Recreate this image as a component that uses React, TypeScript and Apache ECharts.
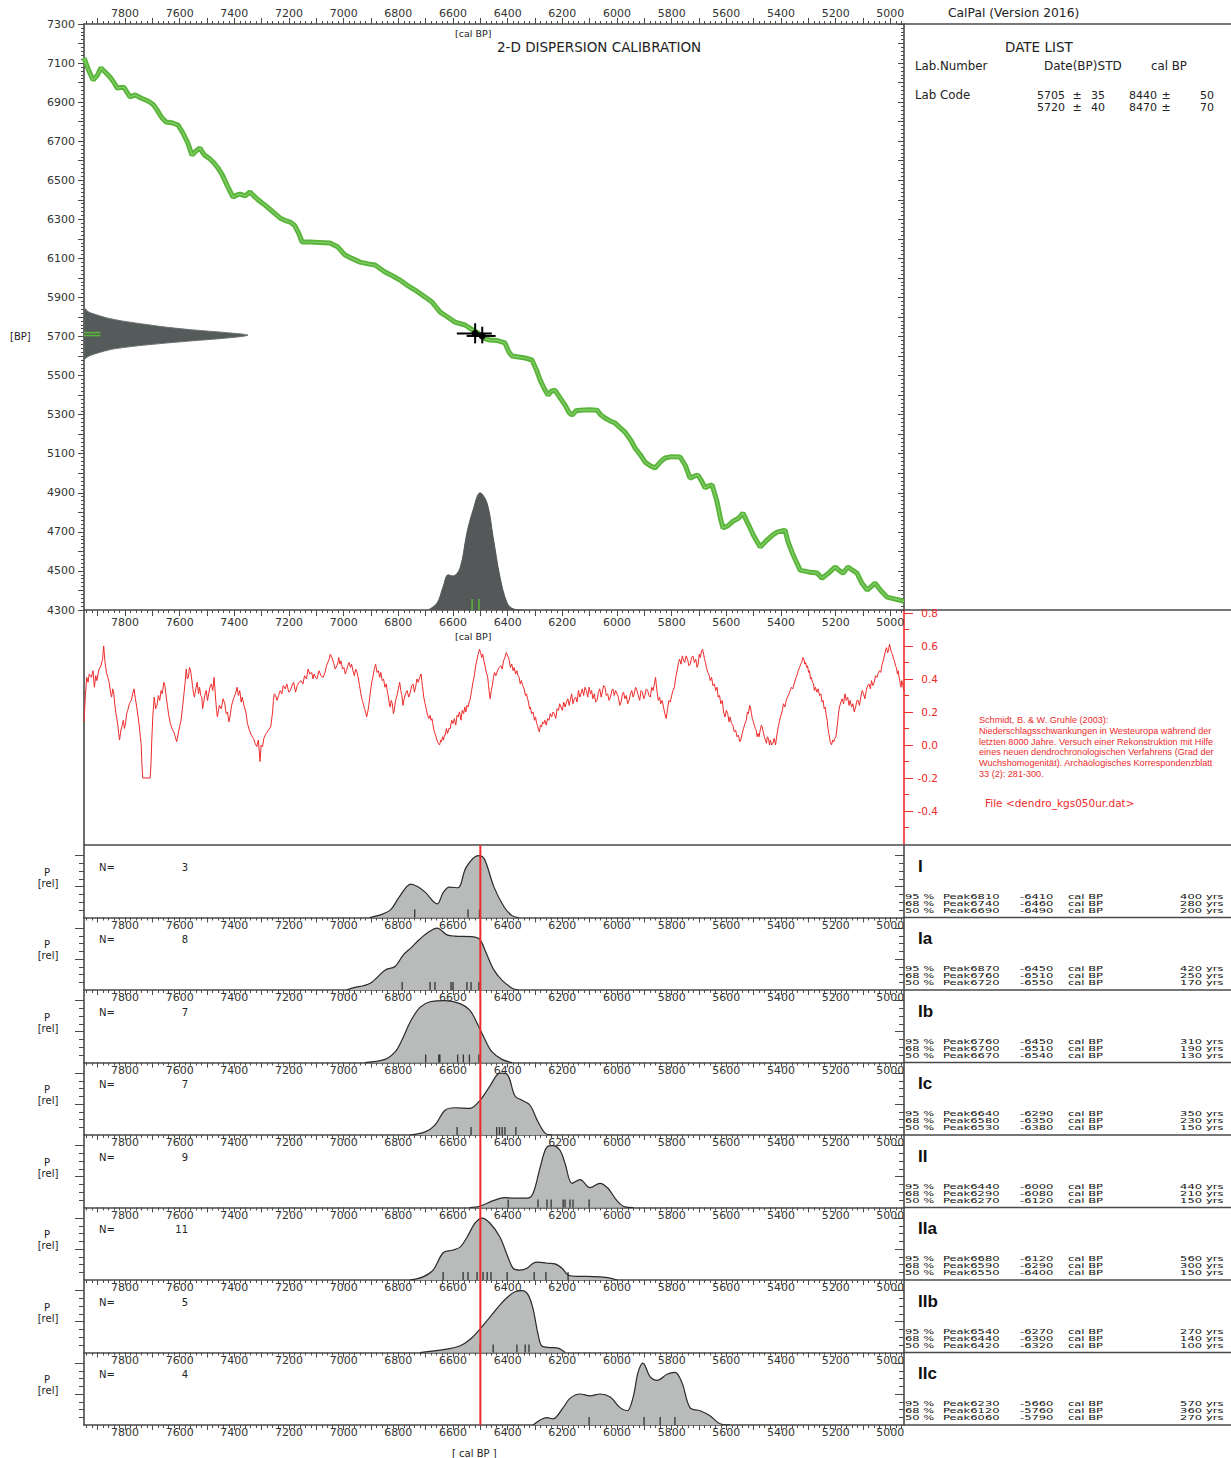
import React, { useEffect, useRef } from "react";
import * as echarts from "echarts";

// ---------------- data ----------------
const calTickLabels = [5000, 5200, 5400, 5600, 5800, 6000, 6200, 6400, 6600, 6800, 7000, 7200, 7400, 7600, 7800];
const bpTickLabels = [4300, 4500, 4700, 4900, 5100, 5300, 5500, 5700, 5900, 6100, 6300, 6500, 6700, 6900, 7100, 7300];
const dendroTickLabels = [-0.4, -0.2, 0, 0.2, 0.4, 0.6, 0.8];

// calibration curve [calBP, BP]
const calCurve = [
  [7950, 7126], [7935, 7070], [7917, 7013], [7900, 7040], [7888, 7075], [7870, 7050], [7855, 7029], [7840, 7000],
  [7829, 6972], [7815, 6975], [7804, 6976], [7790, 6945], [7782, 6926], [7763, 6937], [7740, 6920], [7720, 6908],
  [7709, 6900], [7695, 6885], [7683, 6860], [7665, 6820], [7650, 6798], [7630, 6795], [7606, 6783], [7588, 6742],
  [7570, 6690], [7555, 6629], [7540, 6650], [7526, 6665], [7510, 6630], [7490, 6610], [7475, 6590], [7460, 6563],
  [7445, 6530], [7425, 6470], [7405, 6414], [7390, 6425], [7379, 6429], [7360, 6420], [7343, 6440], [7325, 6415],
  [7313, 6400], [7300, 6385], [7288, 6373], [7260, 6340], [7233, 6307], [7210, 6292], [7196, 6286], [7180, 6270],
  [7165, 6230], [7152, 6184], [7123, 6184], [7090, 6182], [7050, 6179], [7021, 6158], [6995, 6117], [6970, 6100],
  [6940, 6081], [6910, 6072], [6885, 6066], [6849, 6030], [6820, 6010], [6794, 5989], [6770, 5965], [6739, 5938],
  [6702, 5902], [6677, 5877], [6647, 5825], [6620, 5800], [6593, 5774], [6556, 5759], [6530, 5735], [6508, 5718],
  [6485, 5690], [6465, 5682], [6440, 5680], [6410, 5667], [6395, 5620], [6384, 5600], [6360, 5595], [6336, 5590],
  [6311, 5580], [6295, 5530], [6281, 5477], [6265, 5430], [6252, 5400], [6240, 5420], [6227, 5426], [6210, 5390],
  [6190, 5349], [6175, 5310], [6164, 5298], [6150, 5320], [6135, 5323], [6100, 5325], [6073, 5323], [6060, 5300],
  [6044, 5283], [6025, 5268], [6007, 5257], [5990, 5235], [5971, 5211], [5950, 5170], [5934, 5129], [5915, 5095],
  [5897, 5057], [5880, 5040], [5861, 5027], [5840, 5060], [5824, 5078], [5800, 5085], [5769, 5083], [5750, 5040],
  [5733, 4975], [5718, 4985], [5704, 4991], [5690, 4960], [5678, 4925], [5665, 4935], [5652, 4940], [5635, 4860],
  [5620, 4760], [5612, 4720], [5595, 4730], [5575, 4755], [5555, 4770], [5539, 4796], [5520, 4740], [5500, 4680],
  [5476, 4622], [5460, 4645], [5451, 4658], [5430, 4685], [5414, 4699], [5385, 4709], [5374, 4648], [5355, 4580],
  [5330, 4504], [5300, 4495], [5268, 4489], [5250, 4463], [5225, 4490], [5202, 4520], [5185, 4500], [5173, 4489],
  [5155, 4520], [5140, 4505], [5122, 4489], [5105, 4440], [5085, 4402], [5070, 4420], [5056, 4438], [5035, 4400],
  [5012, 4366], [4950, 4345],
];

// BP probability (rotated, left) [BP, relP]
const bpDensity = [
  [5850, 0], [5840, 0.01], [5825, 0.03], [5810, 0.08], [5795, 0.14], [5780, 0.23], [5765, 0.35], [5750, 0.48],
  [5735, 0.65], [5722, 0.84], [5712, 0.97], [5707, 1.0], [5700, 0.96], [5690, 0.84], [5678, 0.66], [5665, 0.48],
  [5650, 0.3], [5635, 0.17], [5615, 0.08], [5600, 0.03], [5585, 0.005], [5580, 0],
];
const bpDateMarks = [[0.1, 5720], [0.1, 5705]];

// cal probability (bottom) [calBP, relP]
const calDensity = [
  [6691, 0], [6658, 0.06], [6636, 0.2], [6618, 0.3], [6600, 0.29], [6574, 0.36], [6549, 0.66], [6527, 0.85],
  [6501, 1.0], [6475, 0.91], [6453, 0.62], [6428, 0.28], [6402, 0.06], [6380, 0.01], [6344, 0],
];
const calDateMarks = [[6530, 0], [6505, 0]];

// crosses [cal, BP, calLo, calHi, bpHi, bpLo]
const crosses = [
  [6519, 5716, 6586, 6458, 5768, 5665],
  [6493, 5703, 6550, 6444, 5750, 5665],
];

// dendro curve [calBP, value]
const dendro = [
  [7950, 0.14], [7945, 0.3], [7940, 0.41], [7935, 0.38], [7931, 0.43], [7923, 0.41], [7917, 0.45], [7912, 0.35],
  [7907, 0.42], [7903, 0.39], [7895, 0.46], [7888, 0.48], [7882, 0.52], [7878, 0.6], [7873, 0.5], [7868, 0.44],
  [7863, 0.41], [7858, 0.38], [7853, 0.32], [7849, 0.29], [7845, 0.34], [7841, 0.31], [7837, 0.24], [7833, 0.19],
  [7826, 0.12], [7823, 0.07], [7820, 0.03], [7815, 0.09], [7810, 0.12], [7806, 0.15], [7802, 0.1], [7798, 0.13],
  [7794, 0.19], [7790, 0.21], [7784, 0.25], [7777, 0.27], [7772, 0.31], [7767, 0.34], [7762, 0.28], [7757, 0.23],
  [7752, 0.17], [7748, 0.12], [7744, 0.05], [7741, 0.01], [7738, -0.12], [7735, -0.2], [7708, -0.2], [7705, -0.12],
  [7702, 0.03], [7698, 0.18], [7693, 0.29], [7688, 0.22], [7683, 0.24], [7678, 0.3], [7673, 0.27], [7668, 0.33],
  [7664, 0.31], [7658, 0.38], [7654, 0.36], [7649, 0.29], [7645, 0.24], [7640, 0.18], [7634, 0.13], [7628, 0.1],
  [7622, 0.08], [7616, 0.05], [7611, 0.02], [7606, 0.06], [7603, 0.09], [7599, 0.12], [7595, 0.15], [7590, 0.22],
  [7585, 0.3], [7580, 0.38], [7576, 0.46], [7572, 0.4], [7568, 0.41], [7564, 0.47], [7560, 0.45], [7556, 0.4],
  [7553, 0.36], [7549, 0.31], [7546, 0.29], [7541, 0.34], [7536, 0.38], [7531, 0.31], [7527, 0.35], [7523, 0.3],
  [7519, 0.29], [7516, 0.22], [7513, 0.25], [7508, 0.3], [7503, 0.33], [7498, 0.27], [7494, 0.31], [7489, 0.35],
  [7484, 0.37], [7479, 0.33], [7474, 0.41], [7471, 0.34], [7468, 0.27], [7465, 0.21], [7462, 0.17], [7455, 0.24],
  [7448, 0.22], [7441, 0.28], [7435, 0.25], [7430, 0.19], [7425, 0.2], [7420, 0.14], [7416, 0.17], [7410, 0.24],
  [7403, 0.28], [7396, 0.31], [7390, 0.35], [7385, 0.3], [7380, 0.33], [7375, 0.26], [7371, 0.29], [7365, 0.24],
  [7358, 0.2], [7352, 0.13], [7345, 0.09], [7338, 0.06], [7330, 0.04], [7324, 0.01], [7318, -0.01], [7312, 0.03],
  [7306, -0.1], [7302, 0.0], [7297, -0.01], [7292, 0.04], [7287, 0.06], [7283, 0.07], [7275, 0.09], [7267, 0.11],
  [7263, 0.16], [7260, 0.2], [7257, 0.27], [7254, 0.31], [7249, 0.3], [7244, 0.27], [7238, 0.3], [7232, 0.33],
  [7226, 0.31], [7221, 0.36], [7214, 0.34], [7208, 0.37], [7201, 0.32], [7195, 0.33], [7189, 0.36], [7183, 0.38],
  [7176, 0.32], [7170, 0.36], [7163, 0.38], [7156, 0.39], [7149, 0.37], [7143, 0.42], [7136, 0.4], [7130, 0.46],
  [7124, 0.43], [7117, 0.44], [7112, 0.4], [7108, 0.43], [7103, 0.41], [7098, 0.4], [7090, 0.45], [7083, 0.42],
  [7075, 0.41], [7068, 0.44], [7063, 0.48], [7058, 0.5], [7053, 0.52], [7049, 0.55], [7043, 0.53], [7037, 0.5],
  [7031, 0.46], [7025, 0.48], [7021, 0.5], [7018, 0.53], [7014, 0.49], [7010, 0.51], [7004, 0.46], [6999, 0.47],
  [6994, 0.43], [6990, 0.45], [6985, 0.48], [6980, 0.5], [6975, 0.47], [6971, 0.49], [6966, 0.45], [6961, 0.42],
  [6956, 0.46], [6951, 0.44], [6946, 0.4], [6942, 0.36], [6937, 0.31], [6932, 0.27], [6928, 0.25], [6924, 0.22],
  [6920, 0.2], [6916, 0.17], [6912, 0.2], [6908, 0.24], [6904, 0.3], [6900, 0.35], [6896, 0.39], [6892, 0.42],
  [6888, 0.46], [6883, 0.49], [6878, 0.44], [6873, 0.45], [6868, 0.41], [6864, 0.44], [6859, 0.39], [6854, 0.4],
  [6849, 0.35], [6844, 0.37], [6840, 0.32], [6837, 0.3], [6833, 0.25], [6830, 0.23], [6826, 0.27], [6822, 0.25],
  [6818, 0.19], [6815, 0.21], [6810, 0.27], [6805, 0.3], [6800, 0.34], [6795, 0.38], [6791, 0.33], [6787, 0.3],
  [6783, 0.24], [6780, 0.27], [6774, 0.31], [6768, 0.33], [6762, 0.29], [6756, 0.32], [6751, 0.36], [6746, 0.37],
  [6741, 0.32], [6737, 0.35], [6732, 0.4], [6727, 0.38], [6722, 0.41], [6717, 0.43], [6714, 0.39], [6712, 0.36],
  [6709, 0.32], [6707, 0.29], [6702, 0.25], [6698, 0.22], [6693, 0.18], [6688, 0.16], [6684, 0.18], [6680, 0.15],
  [6677, 0.16], [6674, 0.13], [6670, 0.09], [6666, 0.07], [6662, 0.05], [6659, 0.03], [6654, 0.01], [6649, 0.0],
  [6645, 0.03], [6642, 0.02], [6638, 0.05], [6635, 0.03], [6631, 0.06], [6628, 0.06], [6624, 0.1], [6620, 0.07],
  [6615, 0.1], [6610, 0.1], [6605, 0.15], [6600, 0.13], [6595, 0.16], [6590, 0.12], [6585, 0.18], [6581, 0.17],
  [6576, 0.2], [6571, 0.15], [6566, 0.21], [6561, 0.19], [6557, 0.23], [6553, 0.2], [6549, 0.24], [6545, 0.23],
  [6541, 0.26], [6538, 0.27], [6535, 0.3], [6532, 0.33], [6527, 0.38], [6522, 0.42], [6517, 0.48], [6512, 0.52],
  [6508, 0.55], [6503, 0.58], [6499, 0.56], [6495, 0.53], [6491, 0.55], [6487, 0.51], [6483, 0.48], [6480, 0.45],
  [6476, 0.43], [6473, 0.41], [6470, 0.36], [6468, 0.33], [6466, 0.3], [6464, 0.28], [6460, 0.33], [6456, 0.36],
  [6452, 0.41], [6448, 0.44], [6443, 0.42], [6437, 0.45], [6431, 0.47], [6425, 0.48], [6420, 0.46], [6415, 0.51],
  [6410, 0.53], [6405, 0.56], [6400, 0.54], [6395, 0.52], [6390, 0.47], [6385, 0.49], [6380, 0.45], [6376, 0.47],
  [6371, 0.43], [6366, 0.45], [6362, 0.42], [6358, 0.41], [6354, 0.37], [6350, 0.39], [6345, 0.36], [6340, 0.34],
  [6335, 0.3], [6331, 0.31], [6327, 0.28], [6324, 0.26], [6320, 0.22], [6317, 0.23], [6312, 0.19], [6307, 0.2],
  [6302, 0.15], [6298, 0.17], [6294, 0.13], [6291, 0.12], [6287, 0.09], [6284, 0.08], [6280, 0.12], [6276, 0.11],
  [6272, 0.14], [6268, 0.13], [6264, 0.15], [6259, 0.12], [6254, 0.16], [6249, 0.15], [6244, 0.19], [6239, 0.17],
  [6234, 0.2], [6229, 0.19], [6224, 0.16], [6219, 0.22], [6214, 0.21], [6210, 0.25], [6205, 0.23], [6200, 0.21],
  [6195, 0.26], [6190, 0.23], [6185, 0.26], [6180, 0.28], [6175, 0.24], [6171, 0.27], [6166, 0.31], [6161, 0.25],
  [6156, 0.28], [6151, 0.29], [6146, 0.26], [6141, 0.33], [6136, 0.29], [6132, 0.31], [6127, 0.34], [6122, 0.3],
  [6117, 0.35], [6112, 0.33], [6107, 0.29], [6102, 0.35], [6097, 0.31], [6093, 0.33], [6088, 0.28], [6083, 0.31],
  [6078, 0.26], [6073, 0.27], [6068, 0.32], [6063, 0.34], [6058, 0.29], [6054, 0.32], [6049, 0.36], [6044, 0.35],
  [6039, 0.3], [6034, 0.31], [6029, 0.27], [6024, 0.29], [6019, 0.33], [6015, 0.34], [6010, 0.3], [6005, 0.33],
  [6000, 0.31], [5995, 0.29], [5990, 0.24], [5985, 0.26], [5980, 0.31], [5976, 0.32], [5971, 0.28], [5966, 0.3],
  [5961, 0.25], [5956, 0.27], [5951, 0.31], [5946, 0.33], [5941, 0.29], [5937, 0.31], [5932, 0.35], [5927, 0.33],
  [5922, 0.3], [5917, 0.27], [5912, 0.33], [5907, 0.32], [5902, 0.28], [5898, 0.3], [5893, 0.34], [5888, 0.33],
  [5883, 0.3], [5878, 0.29], [5873, 0.35], [5868, 0.33], [5863, 0.37], [5859, 0.41], [5854, 0.33], [5849, 0.27],
  [5844, 0.29], [5840, 0.25], [5835, 0.27], [5830, 0.23], [5825, 0.19], [5820, 0.16], [5815, 0.22], [5810, 0.27],
  [5805, 0.26], [5800, 0.3], [5795, 0.33], [5790, 0.35], [5785, 0.41], [5780, 0.45], [5775, 0.5], [5771, 0.52],
  [5766, 0.49], [5761, 0.54], [5756, 0.51], [5752, 0.5], [5747, 0.54], [5742, 0.52], [5737, 0.48], [5732, 0.49],
  [5727, 0.53], [5722, 0.54], [5717, 0.5], [5712, 0.52], [5707, 0.47], [5703, 0.49], [5699, 0.55], [5695, 0.53],
  [5691, 0.57], [5687, 0.58], [5683, 0.55], [5680, 0.52], [5676, 0.5], [5673, 0.47], [5668, 0.44], [5664, 0.43],
  [5659, 0.39], [5654, 0.41], [5649, 0.36], [5644, 0.37], [5639, 0.33], [5634, 0.35], [5630, 0.29], [5625, 0.3],
  [5620, 0.25], [5615, 0.27], [5610, 0.2], [5605, 0.17], [5600, 0.21], [5595, 0.19], [5590, 0.14], [5586, 0.17],
  [5581, 0.13], [5576, 0.12], [5571, 0.08], [5566, 0.09], [5561, 0.05], [5556, 0.06], [5551, 0.02], [5547, 0.03],
  [5542, 0.07], [5537, 0.1], [5532, 0.13], [5527, 0.15], [5523, 0.2], [5519, 0.19], [5515, 0.24], [5512, 0.23],
  [5508, 0.19], [5505, 0.16], [5501, 0.14], [5498, 0.12], [5494, 0.1], [5491, 0.09], [5487, 0.05], [5484, 0.07],
  [5480, 0.05], [5476, 0.09], [5472, 0.12], [5469, 0.11], [5465, 0.08], [5461, 0.05], [5457, 0.03], [5453, 0.01],
  [5450, 0.05], [5446, 0.04], [5442, 0.0], [5439, 0.03], [5434, 0.0], [5430, 0.01], [5425, 0.04], [5420, 0.0],
  [5415, 0.06], [5410, 0.11], [5405, 0.15], [5400, 0.18], [5395, 0.21], [5391, 0.25], [5386, 0.23], [5381, 0.27],
  [5376, 0.29], [5371, 0.31], [5366, 0.33], [5362, 0.35], [5357, 0.34], [5352, 0.37], [5347, 0.4], [5342, 0.42],
  [5337, 0.45], [5332, 0.47], [5328, 0.49], [5324, 0.5], [5320, 0.53], [5316, 0.52], [5313, 0.49], [5310, 0.5],
  [5306, 0.47], [5303, 0.48], [5299, 0.44], [5296, 0.45], [5292, 0.4], [5289, 0.41], [5285, 0.38], [5281, 0.37],
  [5278, 0.33], [5274, 0.35], [5269, 0.32], [5264, 0.34], [5259, 0.3], [5254, 0.31], [5250, 0.26], [5246, 0.27],
  [5242, 0.22], [5238, 0.23], [5234, 0.17], [5231, 0.15], [5228, 0.1], [5225, 0.07], [5220, 0.02], [5215, 0.0],
  [5211, 0.03], [5207, 0.02], [5203, 0.04], [5199, 0.05], [5195, 0.11], [5192, 0.15], [5189, 0.2], [5186, 0.23],
  [5181, 0.26], [5176, 0.28], [5171, 0.25], [5166, 0.31], [5161, 0.27], [5156, 0.29], [5151, 0.24], [5147, 0.27],
  [5142, 0.23], [5137, 0.25], [5132, 0.2], [5127, 0.23], [5122, 0.27], [5118, 0.27], [5113, 0.24], [5108, 0.29],
  [5103, 0.33], [5098, 0.31], [5093, 0.28], [5088, 0.33], [5083, 0.36], [5078, 0.37], [5073, 0.34], [5069, 0.39],
  [5064, 0.36], [5059, 0.38], [5054, 0.42], [5049, 0.41], [5045, 0.43], [5040, 0.45], [5035, 0.44], [5030, 0.49],
  [5026, 0.51], [5022, 0.54], [5018, 0.57], [5014, 0.59], [5010, 0.56], [5007, 0.57], [5003, 0.61], [5000, 0.59],
  [4996, 0.56], [4992, 0.55], [4988, 0.52], [4985, 0.51], [4981, 0.48], [4978, 0.47], [4974, 0.43], [4971, 0.45],
  [4968, 0.41], [4966, 0.4], [4963, 0.36], [4961, 0.35], [4958, 0.39], [4955, 0.37], [4952, 0.34], [4950, 0.33],
];

// sum-calibration panels
const panelNames = ["I", "Ia", "Ib", "Ic", "II", "IIa", "IIb", "IIc"];
const panelN = [3, 8, 7, 7, 9, 11, 5, 4];

const densI = [[6905, 0], [6860, 0.05], [6827, 0.13], [6797, 0.33], [6754, 0.54], [6730, 0.5], [6702, 0.41], [6658, 0.22], [6636, 0.4], [6614, 0.49], [6582, 0.48], [6552, 0.81], [6508, 1.0], [6486, 0.95], [6450, 0.49], [6413, 0.17], [6384, 0.03], [6362, 0]];
const densIa = [[6990, 0], [6969, 0.03], [6903, 0.11], [6849, 0.32], [6812, 0.38], [6783, 0.56], [6754, 0.68], [6724, 0.81], [6688, 0.94], [6658, 1.0], [6622, 0.89], [6593, 0.87], [6530, 0.86], [6501, 0.81], [6479, 0.6], [6450, 0.32], [6421, 0.16], [6384, 0.03], [6360, 0]];
const densIb = [[6922, 0], [6849, 0.05], [6812, 0.17], [6786, 0.37], [6757, 0.65], [6721, 0.89], [6684, 0.98], [6629, 1.0], [6574, 0.95], [6538, 0.84], [6508, 0.6], [6483, 0.37], [6457, 0.17], [6421, 0.05], [6384, 0]];
const densIc = [[6757, 0], [6702, 0.05], [6666, 0.16], [6629, 0.4], [6593, 0.44], [6538, 0.43], [6501, 0.56], [6465, 0.79], [6428, 1.0], [6402, 0.98], [6373, 0.63], [6347, 0.56], [6318, 0.48], [6292, 0.24], [6263, 0.03], [6238, 0]];
const densII = [[6538, 0], [6501, 0.02], [6453, 0.11], [6410, 0.16], [6380, 0.15], [6329, 0.15], [6307, 0.23], [6281, 0.65], [6256, 0.98], [6234, 1.0], [6208, 0.92], [6190, 0.71], [6164, 0.39], [6135, 0.45], [6099, 0.32], [6062, 0.39], [6033, 0.31], [6000, 0.11], [5971, 0.01], [5941, 0]];
const densIIa = [[6757, 0], [6710, 0.05], [6673, 0.16], [6636, 0.44], [6603, 0.48], [6574, 0.53], [6549, 0.69], [6519, 0.92], [6494, 1.0], [6465, 0.92], [6428, 0.69], [6399, 0.37], [6380, 0.19], [6355, 0.16], [6329, 0.19], [6307, 0.27], [6289, 0.29], [6256, 0.27], [6227, 0.26], [6201, 0.19], [6179, 0.08], [6146, 0.06], [6110, 0.06], [6062, 0.05], [6025, 0.03], [6000, 0]];
const densIIb = [[6721, 0], [6629, 0.05], [6574, 0.11], [6538, 0.21], [6501, 0.38], [6465, 0.57], [6428, 0.77], [6399, 0.9], [6373, 0.98], [6347, 1.0], [6325, 0.93], [6307, 0.7], [6289, 0.3], [6274, 0.1], [6245, 0.08], [6216, 0.07], [6190, 0]];
const densIIc = [[6307, 0], [6256, 0.12], [6234, 0.1], [6197, 0.28], [6172, 0.43], [6135, 0.5], [6099, 0.47], [6062, 0.5], [6025, 0.45], [5989, 0.28], [5963, 0.23], [5941, 0.45], [5923, 0.85], [5905, 1.0], [5879, 0.78], [5853, 0.72], [5817, 0.82], [5788, 0.85], [5762, 0.68], [5733, 0.28], [5696, 0.23], [5660, 0.15], [5623, 0.02], [5586, 0]];
const panelDensity = [densI, densIa, densIb, densIc, densII, densIIa, densIIb, densIIc];

const samplesI = [6740, 6545, 6503];
const samplesIa = [6786, 6684, 6666, 6607, 6600, 6549, 6534, 6505];
const samplesIb = [6700, 6652, 6648, 6583, 6562, 6540, 6505];
const samplesIc = [6585, 6534, 6440, 6430, 6420, 6410, 6370];
const samplesII = [6398, 6289, 6256, 6241, 6197, 6190, 6172, 6161, 6102];
const samplesIIa = [6636, 6563, 6545, 6512, 6490, 6475, 6461, 6402, 6303, 6260, 6179];
const samplesIIb = [6500, 6453, 6366, 6336, 6322];
const samplesIIc = [6102, 5901, 5842, 5788];
const panelSamples = [samplesI, samplesIa, samplesIb, samplesIc, samplesII, samplesIIa, samplesIIb, samplesIIc];

const levels = ["95 %", "68 %", "50 %"];
const statsI = [[6810, -6410, 400], [6740, -6460, 280], [6690, -6490, 200]];
const statsIa = [[6870, -6450, 420], [6760, -6510, 250], [6720, -6550, 170]];
const statsIb = [[6760, -6450, 310], [6700, -6510, 190], [6670, -6540, 130]];
const statsIc = [[6640, -6290, 350], [6580, -6350, 230], [6530, -6380, 150]];
const statsII = [[6440, -6000, 440], [6290, -6080, 210], [6270, -6120, 150]];
const statsIIa = [[6680, -6120, 560], [6590, -6290, 300], [6550, -6400, 150]];
const statsIIb = [[6540, -6270, 270], [6440, -6300, 140], [6420, -6320, 100]];
const statsIIc = [[6230, -5660, 570], [6120, -5760, 360], [6060, -5790, 270]];
const panelStats = [statsI, statsIa, statsIb, statsIc, statsII, statsIIa, statsIIb, statsIIc];

const refCal = 6500;

const dateBP = [5705, 5720];
const dateSD = [35, 40];
const dateCal = [8440, 8470];
const dateCalSD = [50, 70];

const citation = [
  "Schmidt, B. & W. Gruhle (2003):",
  "Niederschlagsschwankungen in Westeuropa während der",
  "letzten 8000 Jahre. Versuch einer Rekonstruktion mit Hilfe",
  "eines neuen dendrochronologischen Verfahrens (Grad der",
  "Wuchshomogenität). Archäologisches Korrespondenzblatt",
  "33 (2): 281-300.",
];

// ---------------- layout ----------------
const W = 1231, H = 1458;
const PL = 84, PW = 820;
const MAIN_T = 24, MAIN_H = 586;
const RED_T = 610, RED_H = 235;
const P_T0 = 845, P_H = 72.5;
const CAL_MIN = 4950, CAL_MAX = 7950;
const BP_MIN = 4300, BP_MAX = 7300;
const RED_MIN = -0.606, RED_MAX = 0.818;
const P_MAX = 1.17;

const FRAME = "#4a4a4a";
const LABEL = "#333333";
const RED = "#ee2a2a";
const GREEN = "#58b53a";
const FONT = "'DejaVu Sans', sans-serif";
const FONT2 = "'Liberation Sans', Arial, sans-serif";

function seq(a: number, b: number, s: number) {
  const out: number[] = [];
  for (let v = a; v <= b + 1e-9; v += s) out.push(+v.toFixed(3));
  return out;
}
const calMinor = seq(4960, 7940, 20);
const calMajor = seq(5000, 7900, 100);
const bpMinor = seq(4320, 7280, 20);
const bpMajor = seq(4300, 7300, 100);
const redMinor = seq(-0.5, 0.8, 0.1);
const pMinor = [0.125, 0.25, 0.375, 0.625, 0.75, 0.875];
const pMajor = [0.5, 1];

const intFmt = (v: number) => String(Math.round(v));
const redFmt = (v: number) => v.toFixed(1);

function axis(o: any) {
  const color = o.color || FRAME;
  return {
    type: "value",
    gridIndex: o.grid,
    position: o.pos,
    min: o.min,
    max: o.max,
    inverse: !!o.inverse,
    show: o.show !== false,
    scale: true,
    axisLine: { show: !!o.line, onZero: false, lineStyle: { color, width: 1.6 } },
    axisTick: o.ticks
      ? { show: true, customValues: o.ticks, length: o.len, inside: !!o.inside, lineStyle: { color, width: 1 } }
      : { show: false },
    axisLabel: o.labels
      ? {
          show: true,
          customValues: o.labels,
          margin: o.margin,
          color: o.labelColor || LABEL,
          fontSize: o.fs || 11,
          fontFamily: FONT,
          formatter: o.fmt || intFmt,
          align: o.align,
        }
      : { show: false },
    splitLine: { show: false },
    splitArea: { show: false },
    minorTick: { show: false },
  };
}

function buildOption() {
  const grids: any[] = [];
  const xAxes: any[] = [];
  const yAxes: any[] = [];
  const series: any[] = [];
  const graphics: any[] = [];
  const addX = (o: any) => { xAxes.push(axis(o)); return xAxes.length - 1; };
  const addY = (o: any) => { yAxes.push(axis(o)); return yAxes.length - 1; };
  const addGrid = (top: number, height: number) => {
    grids.push({ left: PL, top, width: PW, height, containLabel: false, outerBoundsMode: "none", show: false });
    return grids.length - 1;
  };

  // ---- main calibration grid ----
  const gMain = addGrid(MAIN_T, MAIN_H);
  const calBase = { grid: gMain, min: CAL_MIN, max: CAL_MAX, inverse: true };
  const xMain = addX({ ...calBase, pos: "top", line: true, ticks: calMinor, len: 3, labels: calTickLabels, margin: 5 });
  addX({ ...calBase, pos: "top", ticks: calMajor, len: 6 });
  addX({ ...calBase, pos: "bottom", line: true, ticks: calMinor, len: 3, labels: calTickLabels, margin: 7 });
  addX({ ...calBase, pos: "bottom", ticks: calMajor, len: 6 });
  const bpBase = { grid: gMain, min: BP_MIN, max: BP_MAX };
  const yMain = addY({ ...bpBase, pos: "left", line: true, ticks: bpMinor, len: 3, labels: bpTickLabels, margin: 9 });
  addY({ ...bpBase, pos: "left", ticks: bpMajor, len: 6 });
  addY({ ...bpBase, pos: "right", line: true, ticks: bpMinor, len: 3, inside: true });
  addY({ ...bpBase, pos: "right", ticks: bpMajor, len: 6, inside: true });

  // ---- BP density overlay ----
  const gBp = addGrid(MAIN_T, MAIN_H);
  const xBp = addX({ grid: gBp, pos: "bottom", min: 0, max: 5, show: false });
  const yBp = addY({ grid: gBp, pos: "left", min: BP_MIN, max: BP_MAX, show: false });

  // ---- cal density overlay ----
  const gCal = addGrid(MAIN_T, MAIN_H);
  const xCal = addX({ grid: gCal, pos: "bottom", min: CAL_MIN, max: CAL_MAX, inverse: true, show: false });
  const yCal = addY({ grid: gCal, pos: "left", min: 0, max: 5, show: false });

  // ---- dendro grid ----
  const gRed = addGrid(RED_T, RED_H);
  const xRed = addX({ grid: gRed, pos: "bottom", min: CAL_MIN, max: CAL_MAX, inverse: true, show: false });
  addY({ grid: gRed, pos: "left", min: RED_MIN, max: RED_MAX, line: true });
  const yRed = addY({ grid: gRed, pos: "right", min: RED_MIN, max: RED_MAX, line: true, color: RED, ticks: redMinor, len: 5, labels: dendroTickLabels, margin: 34, align: "right", labelColor: RED, fmt: redFmt, fs: 10.5 });
  addY({ grid: gRed, pos: "right", min: RED_MIN, max: RED_MAX, color: RED, ticks: dendroTickLabels, len: 9 });

  // ---- series main ----
  series.push({
    type: "line", xAxisIndex: xMain, yAxisIndex: yMain, data: calCurve, symbol: "none",
    lineStyle: { color: GREEN, width: 5 }, z: 3, silent: true,
  });
  series.push({
    type: "line", xAxisIndex: xMain, yAxisIndex: yMain, data: calCurve, symbol: "none",
    lineStyle: { color: "#86cc6c", width: 1.2 }, z: 4, silent: true,
  });
  series.push({
    type: "custom", xAxisIndex: xBp, yAxisIndex: yBp, data: bpDensity.map((d) => [d[1], d[0]]), clip: false, z: 2,
    renderItem: (params: any, api: any) => {
      if (params.dataIndex !== 0) return null;
      const pts = bpDensity.map((d) => api.coord([d[1], d[0]]));
      return { type: "polygon", shape: { points: pts, smooth: 0.2 }, style: { fill: "#555a5b", stroke: "#6a6f70", lineWidth: 1 } };
    },
  });
  series.push({
    type: "custom", xAxisIndex: xBp, yAxisIndex: yBp, data: bpDateMarks, clip: false, z: 5,
    renderItem: (params: any, api: any) => {
      const a = api.coord([0, api.value(1)]);
      const b = api.coord([api.value(0), api.value(1)]);
      return { type: "line", shape: { x1: a[0], y1: a[1], x2: b[0], y2: b[1] }, style: { stroke: GREEN, lineWidth: 1.6 } };
    },
  });
  series.push({
    type: "line", xAxisIndex: xCal, yAxisIndex: yCal, data: calDensity, symbol: "none", smooth: 0.35,
    lineStyle: { color: "#545859", width: 1 }, areaStyle: { color: "#545859", opacity: 1 }, z: 2, silent: true,
  });
  series.push({
    type: "scatter", xAxisIndex: xCal, yAxisIndex: yCal, data: calDateMarks, symbol: "rect",
    symbolSize: [2, 11], symbolOffset: [0, -5.5], itemStyle: { color: GREEN }, z: 5, clip: false, silent: true,
  });
  series.push({
    type: "custom", xAxisIndex: xMain, yAxisIndex: yMain, data: crosses, clip: false, z: 6,
    encode: { x: [0, 2, 3], y: [1, 4, 5] },
    renderItem: (params: any, api: any) => {
      const cx = api.value(0), cy = api.value(1);
      const c = api.coord([cx, cy]);
      const l = api.coord([api.value(2), cy]);
      const r = api.coord([api.value(3), cy]);
      const t = api.coord([cx, api.value(4)]);
      const b = api.coord([cx, api.value(5)]);
      return {
        type: "group",
        children: [
          { type: "line", shape: { x1: l[0], y1: l[1], x2: r[0], y2: r[1] }, style: { stroke: "#000", lineWidth: 2 } },
          { type: "line", shape: { x1: t[0], y1: t[1], x2: b[0], y2: b[1] }, style: { stroke: "#000", lineWidth: 2 } },
          { type: "circle", shape: { cx: c[0], cy: c[1], r: 3.5 }, style: { fill: "#000" } },
        ],
      };
    },
  });
  series.push({
    type: "line", xAxisIndex: xRed, yAxisIndex: yRed, data: dendro, symbol: "none",
    lineStyle: { color: RED, width: 1 }, z: 3, silent: true,
  });

  // ---- panels ----
  for (let k = 0; k < panelNames.length; k++) {
    const top = P_T0 + k * P_H;
    const g = addGrid(top, P_H);
    const cb = { grid: g, min: CAL_MIN, max: CAL_MAX, inverse: true };
    const xi = addX({ ...cb, pos: "bottom", line: true, ticks: calMinor, len: 3, labels: calTickLabels, margin: 2 });
    addX({ ...cb, pos: "bottom", ticks: calMajor, len: 5 });
    const pb = { grid: g, min: 0, max: P_MAX };
    const yi = addY({ ...pb, pos: "left", line: true, ticks: pMinor, len: 5 });
    addY({ ...pb, pos: "left", ticks: pMajor, len: 9 });
    addY({ ...pb, pos: "right", line: true, ticks: pMinor, len: 5, inside: true });
    addY({ ...pb, pos: "right", ticks: pMajor, len: 9, inside: true });

    series.push({
      type: "line", xAxisIndex: xi, yAxisIndex: yi, data: panelDensity[k], symbol: "none", smooth: 0.35,
      lineStyle: { color: "#2a2a2a", width: 1.2 }, areaStyle: { color: "#b9bbbb", opacity: 1 }, z: 2, silent: true,
    });
    series.push({
      type: "scatter", xAxisIndex: xi, yAxisIndex: yi, data: panelSamples[k].map((c) => [c, 0]), symbol: "rect",
      symbolSize: [1.3, 8], symbolOffset: [0, -4], itemStyle: { color: "#111" }, z: 4, clip: false, silent: true,
    });
    series.push({
      type: "line", xAxisIndex: xi, yAxisIndex: yi, data: [[refCal, 0], [refCal, P_MAX]], symbol: "none",
      lineStyle: { color: RED, width: 2 }, z: 6, silent: true,
    });

    // texts
    const txt = (x: number, y: number, text: string, extra: any = {}, el: any = {}) =>
      graphics.push({
        type: "text", x, y, silent: true, ...el,
        style: { text, fill: "#222", fontSize: 10, fontFamily: FONT, align: "left", verticalAlign: "middle", ...extra },
      });
    txt(47, top + 27, "P", { align: "center" });
    txt(48, top + 38, "[rel]", { align: "center" });
    txt(99, top + 22, "N=");
    txt(188, top + 22, String(panelN[k]), { align: "right" });
    txt(918, top + 21, panelNames[k], { fontSize: 17, fontWeight: "bold", fontFamily: FONT2, fill: "#111" });
    panelStats[k].forEach((row, i) => {
      const y = top + 51 + i * 7;
      const st = { fontSize: 11.5, fill: "#111" };
      const sc = { scaleY: 0.64 };
      txt(905, y, levels[i], st, sc);
      txt(943, y, "Peak" + row[0], st, sc);
      txt(1020, y, String(row[1]), st, sc);
      txt(1068, y, "cal BP", st, sc);
      txt(1202, y, String(row[2]), { ...st, align: "right" }, sc);
      txt(1206, y, "yrs", st, sc);
    });
  }

  // ---- frame lines ----
  const hline = (y: number, x1: number, x2: number) =>
    graphics.push({ type: "line", silent: true, shape: { x1, y1: y, x2, y2: y }, style: { stroke: FRAME, lineWidth: 1.6 } });
  hline(MAIN_T, PL + PW, W);
  hline(RED_T, PL + PW, W);
  hline(P_T0, PL, W);
  for (let k = 1; k <= panelNames.length; k++) hline(P_T0 + k * P_H, PL + PW, W);

  // ---- texts ----
  const t = (x: number, y: number, text: string, extra: any = {}) =>
    graphics.push({
      type: "text", x, y, silent: true,
      style: { text, fill: "#222", fontSize: 10.5, fontFamily: FONT, align: "left", verticalAlign: "middle", ...extra },
    });
  t(948, 13, "CalPal (Version 2016)", { fontSize: 12.3 });
  t(455, 33, "[cal BP]", { fontSize: 9.5 });
  t(497, 47, "2-D DISPERSION CALIBRATION", { fontSize: 13.5 });
  t(1005, 47, "DATE LIST", { fontSize: 13.5 });
  t(915, 66, "Lab.Number", { fontSize: 11.8 });
  t(1044, 66, "Date(BP)STD", { fontSize: 12 });
  t(1151, 66, "cal BP", { fontSize: 11.8 });
  t(915, 95, "Lab Code", { fontSize: 11.8 });
  for (let i = 0; i < dateBP.length; i++) {
    const y = 95 + i * 12;
    t(1037, y, String(dateBP[i]), { fontSize: 11 });
    t(1077, y, "±", { fontSize: 11, align: "center" });
    t(1105, y, String(dateSD[i]), { fontSize: 11, align: "right" });
    t(1129, y, String(dateCal[i]), { fontSize: 11 });
    t(1166, y, "±", { fontSize: 11, align: "center" });
    t(1214, y, String(dateCalSD[i]), { fontSize: 11, align: "right" });
  }
  t(10, 336, "[BP]", { fontSize: 10 });
  t(455, 636, "[cal BP]", { fontSize: 9.5 });
  t(452, 1453, "[ cal BP ]", { fontSize: 10 });
  citation.forEach((line, i) => t(979, 720 + i * 10.8, line, { fontSize: 9.1, fontFamily: FONT2, fill: RED }));
  t(985, 803, "File <dendro_kgs050ur.dat>", { fontSize: 10.5, fill: RED });

  return {
    animation: false,
    backgroundColor: "#ffffff",
    grid: grids,
    xAxis: xAxes,
    yAxis: yAxes,
    series,
    graphic: graphics,
  };
}

export default function App() {
  const ref = useRef<HTMLDivElement>(null);
  useEffect(() => {
    if (!ref.current) return;
    const chart = echarts.init(ref.current, undefined, { renderer: "svg", width: W, height: H });
    chart.setOption(buildOption() as any);
    return () => chart.dispose();
  }, []);
  return <div ref={ref} style={{ position: "absolute", left: 0, top: 0, width: W, height: H, background: "#fff" }} />;
}
